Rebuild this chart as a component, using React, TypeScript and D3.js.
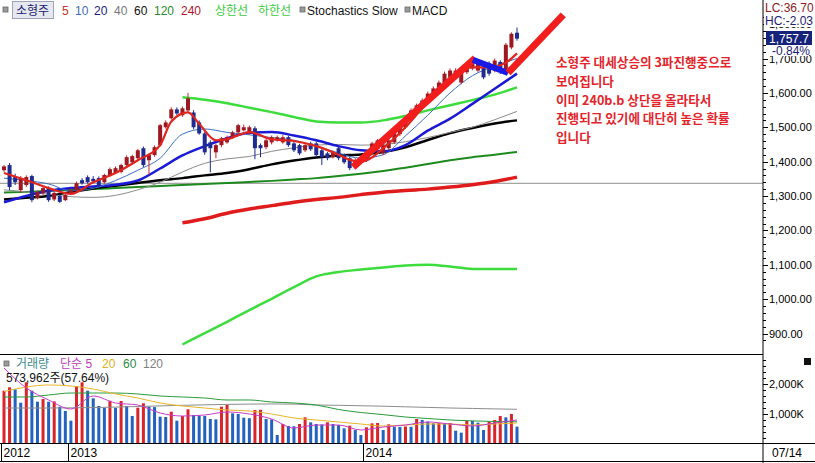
import React, { useEffect, useRef } from "react";
import * as d3 from "d3";

// 소형주 지수 주봉 (2012.10 ~ 2014.07)
const opens = [
  1375, 1390, 1358, 1317, 1332, 1358, 1294, 1308, 1323, 1290, 1300, 1288, 1308, 1317, 1346, 1355,
  1350, 1352, 1340, 1361, 1367, 1370, 1390, 1398, 1410, 1439, 1404, 1419, 1448, 1500, 1526, 1552,
  1535, 1549, 1543, 1514, 1482, 1456, 1427, 1448, 1456, 1471, 1485, 1491, 1483, 1497, 1448, 1442,
  1456, 1462, 1456, 1471, 1453, 1448, 1433, 1453, 1453, 1433, 1424, 1413, 1439, 1419, 1410, 1387,
  1399, 1427, 1427, 1436, 1424, 1439, 1456, 1480, 1500, 1529, 1543, 1564, 1578, 1593, 1613, 1630,
  1645, 1651, 1630, 1660, 1671, 1665, 1674, 1686, 1665, 1690, 1660, 1732, 1775,
];
const highs = [
  1390, 1396, 1365, 1358, 1360, 1362, 1316, 1328, 1328, 1313, 1305, 1307, 1322, 1342, 1352, 1360,
  1358, 1357, 1365, 1383, 1386, 1394, 1418, 1420, 1437, 1444, 1424, 1447, 1510, 1520, 1558, 1558,
  1560, 1600, 1550, 1520, 1488, 1462, 1452, 1472, 1476, 1490, 1510, 1508, 1505, 1503, 1453, 1466,
  1476, 1476, 1477, 1476, 1458, 1452, 1452, 1458, 1458, 1437, 1428, 1432, 1444, 1424, 1414, 1410,
  1418, 1432, 1458, 1466, 1453, 1468, 1487, 1506, 1531, 1555, 1569, 1584, 1604, 1619, 1636, 1662,
  1671, 1672, 1671, 1680, 1697, 1693, 1680, 1692, 1700, 1695, 1745, 1776, 1790,
];
const lows = [
  1370, 1317, 1332, 1309, 1326, 1282, 1290, 1303, 1283, 1285, 1280, 1285, 1305, 1314, 1333, 1336,
  1338, 1328, 1336, 1357, 1364, 1366, 1386, 1394, 1406, 1384, 1361, 1414, 1444, 1496, 1522, 1535,
  1530, 1545, 1494, 1478, 1420, 1369, 1410, 1442, 1452, 1466, 1480, 1488, 1478, 1407, 1413, 1436,
  1450, 1458, 1452, 1443, 1428, 1419, 1428, 1431, 1414, 1390, 1404, 1409, 1404, 1393, 1375, 1381,
  1393, 1399, 1422, 1430, 1419, 1433, 1451, 1474, 1495, 1525, 1538, 1559, 1574, 1588, 1609, 1626,
  1640, 1645, 1625, 1655, 1666, 1660, 1640, 1650, 1660, 1655, 1655, 1727, 1752,
];
const closes = [
  1386, 1326, 1340, 1352, 1355, 1288, 1311, 1323, 1288, 1309, 1283, 1303, 1317, 1337, 1337, 1340,
  1343, 1332, 1361, 1378, 1381, 1390, 1413, 1416, 1433, 1390, 1419, 1442, 1506, 1514, 1552, 1540,
  1555, 1584, 1500, 1482, 1427, 1439, 1448, 1468, 1471, 1485, 1506, 1500, 1500, 1439, 1439, 1462,
  1471, 1471, 1471, 1448, 1433, 1424, 1448, 1436, 1419, 1413, 1410, 1427, 1410, 1398, 1381, 1404,
  1413, 1404, 1453, 1462, 1448, 1462, 1482, 1500, 1526, 1549, 1564, 1578, 1598, 1613, 1630, 1656,
  1665, 1665, 1665, 1674, 1688, 1686, 1645, 1656, 1694, 1662, 1740, 1772, 1757.7,
];
// 거래량 (천주)
const volumes = [
  1777, 1890, 1823, 1377, 2057, 1777, 1410, 1500, 1410, 1420, 1243, 1100, 777, 1933, 2057, 1777,
  1523, 1267, 1210, 1443, 1210, 1433, 1267, 933, 1210, 1357, 1243, 1230, 910, 900, 1077, 777,
  933, 1157, 967, 943, 933, 833, 820, 1243, 1300, 1023, 1000, 877, 860, 1133, 1140, 833,
  820, 300, 667, 600, 590, 667, 889, 722, 667, 650, 722, 667, 633, 522, 611, 467,
  300, 556, 689, 700, 467, 656, 578, 570, 585, 575, 833, 800, 744, 690, 700, 690,
  700, 444, 378, 778, 770, 711, 467, 744, 800, 933, 889, 1000, 578,
];

// 이동평균 (4주 간격으로 읽은 값)
const maIdx = [0, 4, 8, 12, 16, 20, 24, 28, 32, 36, 40, 44, 48, 52, 56, 60, 64, 68, 72, 76, 80, 84, 88, 92];
const ma5Idx = [0, 4, 8, 12, 16, 20, 24, 28, 30, 33, 35, 38, 40, 44, 48, 52, 56, 60, 62, 64, 69, 72, 75, 78, 81, 84, 87, 90, 92];
const ma5 = [1367, 1346, 1323, 1306, 1340, 1367, 1404, 1448, 1517, 1543, 1510, 1462, 1465, 1486, 1465, 1460, 1445, 1420, 1405, 1400, 1453, 1500, 1555, 1607, 1656, 1674, 1674, 1688, 1715];
const ma10 = [1352, 1345, 1335, 1315, 1322, 1345, 1375, 1410, 1480, 1495, 1485, 1478, 1470, 1462, 1445, 1425, 1410, 1420, 1475, 1535, 1600, 1650, 1678, 1700];
const ma20 = [1282, 1300, 1315, 1323, 1328, 1333, 1345, 1380, 1418, 1445, 1468, 1484, 1486, 1476, 1462, 1445, 1433, 1430, 1448, 1490, 1525, 1568, 1612, 1656];
const ma40 = [1318, 1312, 1305, 1298, 1296, 1302, 1318, 1340, 1370, 1395, 1408, 1415, 1430, 1440, 1448, 1450, 1448, 1450, 1458, 1470, 1485, 1500, 1522, 1546];
const ma60 = [1290, 1295, 1300, 1312, 1322, 1330, 1338, 1346, 1352, 1360, 1367, 1378, 1392, 1403, 1412, 1418, 1421, 1428, 1442, 1463, 1483, 1498, 1511, 1520];
const ma120 = [1310, 1312, 1315, 1318, 1320, 1323, 1326, 1329, 1332, 1335, 1338, 1341, 1344, 1348, 1352, 1358, 1365, 1373, 1382, 1393, 1404, 1413, 1420, 1428];

// 240 이평 및 상한선/하한선
const bandIdx = [32, 36, 40, 44, 48, 52, 56, 60, 64, 68, 72, 76, 80, 84, 88, 92];
const ma240 = [1222, 1234, 1250, 1262, 1272, 1282, 1290, 1296, 1304, 1311, 1316, 1320, 1326, 1333, 1342, 1355];
const upperBand = [1587, 1580, 1570, 1557, 1544, 1530, 1517, 1514, 1514, 1520, 1533, 1549, 1564, 1579, 1595, 1616];
const lowerBand = [868, 901, 934, 968, 1001, 1035, 1066, 1079, 1086, 1092, 1098, 1100, 1095, 1088, 1088, 1088];

// 거래량 이동평균
const volMa5 = [2533, 1867, 1467, 1167, 1600, 1367, 1300, 1033, 933, 967, 1067, 1000, 833, 533, 633, 633, 467, 567, 633, 733, 667, 600, 700, 800];
const volMa20 = [1750, 1900, 1967, 1933, 1833, 1667, 1533, 1367, 1267, 1200, 1133, 1100, 1000, 867, 800, 733, 667, 600, 633, 667, 667, 633, 667, 700];
const volMa60 = [1567, 1567, 1633, 1700, 1700, 1700, 1667, 1600, 1567, 1533, 1467, 1467, 1400, 1367, 1300, 1150, 1050, 980, 900, 850, 800, 770, 750, 740];
const volMa120 = [1200, 1200, 1200, 1205, 1215, 1230, 1250, 1270, 1290, 1305, 1320, 1330, 1335, 1330, 1300, 1290, 1275, 1260, 1240, 1220, 1200, 1185, 1170, 1157];

// 추세선 (봉 위치, 가격)
const trendUp1: [number, number][] = [[62.6, 1384], [84.5, 1701]];
const trendDown: [number, number][] = [[84.1, 1696], [90.4, 1658]];
const trendUp2: [number, number][] = [[90.4, 1658], [100.3, 1827]];
const refPrice = 1337;

const priceTicks = [900, 1000, 1100, 1200, 1300, 1400, 1500, 1600, 1700, 1800];
const volTicks = [1000, 2000];
const yearLabels = ["2012", "2013", "2014"];
const yearIdx = [-0.6, 11.5, 64.4];
const lastDate = "07/14";

const noteLines = [
  "소형주 대세상승의 3파진행중으로",
  "보여집니다",
  "이미 240b.b 상단을 올라타서",
  "진행되고 있기에 대단히 높은 확률",
  "입니다",
];

const legendItems: [string, string, number][] = [
  ["5", "#c4302a", 62],
  ["10", "#3b6cbc", 75],
  ["20", "#1c1c86", 94],
  ["40", "#777777", 114],
  ["60", "#111111", 134],
  ["120", "#2a8a2a", 154],
  ["240", "#b3122a", 181],
  ["상한선", "#3ccc3c", 215],
  ["하한선", "#3ccc3c", 258],
];

const App: React.FC = () => {
  const svgRef = useRef<SVGSVGElement | null>(null);

  useEffect(() => {
    const svg = d3.select(svgRef.current);
    svg.selectAll("*").remove();

    const font = "'Liberation Sans', 'Noto Sans CJK KR', sans-serif";
    const axisX = 763;

    const x = d3.scaleLinear().domain([0, closes.length - 1]).range([4, 517]);
    const y = d3.scaleLinear().domain([900, 1700]).range([333.5, 58.5]);
    const yv = d3.scaleLinear().domain([0, 2000]).range([444, 384]);

    svg.append("rect").attr("width", 815).attr("height", 463).attr("fill", "#fff");

    const defs = svg.append("defs");
    defs.append("clipPath").attr("id", "clipMain")
      .append("rect").attr("x", 0).attr("y", 0).attr("width", axisX).attr("height", 353);
    defs.append("clipPath").attr("id", "clipVol")
      .append("rect").attr("x", 0).attr("y", 355).attr("width", axisX).attr("height", 88);

    const main = svg.append("g").attr("clip-path", "url(#clipMain)");

    // 기준선
    main.append("line")
      .attr("x1", 0).attr("x2", axisX)
      .attr("y1", y(refPrice)).attr("y2", y(refPrice))
      .attr("stroke", "#8c8c8c").attr("stroke-width", 1);

    const drawLine = (g: any, idx: number[], vals: number[], scale: any, color: string, w: number) => {
      const line = d3.line<number>()
        .x((_, i) => x(idx[i]))
        .y((d) => scale(d))
        .curve(d3.curveMonotoneX);
      g.append("path")
        .attr("d", line(vals))
        .attr("fill", "none")
        .attr("stroke", color)
        .attr("stroke-width", w)
        .attr("stroke-linejoin", "round");
    };

    drawLine(main, bandIdx, ma240, y, "#e01b1b", 3.5);
    drawLine(main, bandIdx, lowerBand, y, "#3ddc3d", 2.5);
    drawLine(main, bandIdx, upperBand, y, "#3ddc3d", 2.5);
    drawLine(main, maIdx, ma120, y, "#1d8a1d", 2);
    drawLine(main, maIdx, ma60, y, "#000000", 2.5);
    drawLine(main, maIdx, ma40, y, "#8a8a8a", 1);
    drawLine(main, maIdx, ma20, y, "#1a1ad6", 2.5);
    drawLine(main, maIdx, ma10, y, "#3a6ec4", 1);

    // 캔들
    const candles = main.append("g");
    closes.forEach((c, i) => {
      const o = opens[i];
      const up = c >= o;
      candles.append("line")
        .attr("x1", x(i)).attr("x2", x(i))
        .attr("y1", y(highs[i])).attr("y2", y(lows[i]))
        .attr("stroke", up ? "#c8262e" : "#1f2b90").attr("stroke-width", 1);
      const top = y(Math.max(o, c));
      const h = Math.max(1, Math.abs(y(o) - y(c)));
      candles.append("rect")
        .attr("x", x(i) - 2).attr("y", top)
        .attr("width", 4).attr("height", h)
        .attr("fill", up ? "#9e1822" : "#1f2b90");
    });

    drawLine(main, ma5Idx, ma5, y, "#e0251f", 2.2);

    // 추세선
    const seg = (pts: [number, number][], color: string, w: number) => {
      main.append("line")
        .attr("x1", x(pts[0][0])).attr("y1", y(pts[0][1]))
        .attr("x2", x(pts[1][0])).attr("y2", y(pts[1][1]))
        .attr("stroke", color).attr("stroke-width", w);
    };
    seg(trendUp1, "#f21d1d", 7);
    seg(trendDown, "#1b1be8", 6);
    seg(trendUp2, "#f21d1d", 7);

    // 메모
    const note = svg.append("text")
      .attr("font-family", "'Noto Sans CJK KR', sans-serif")
      .attr("font-size", 12.6)
      .attr("font-weight", 600)
      .attr("fill", "#e3242b");
    noteLines.forEach((t, i) => {
      note.append("tspan").attr("x", 556).attr("y", 67 + i * 18.8).text(t);
    });

    // 가격축
    const axisG = svg.append("g").attr("font-family", font).attr("font-size", 11);
    axisG.append("line").attr("x1", axisX).attr("x2", axisX).attr("y1", 0).attr("y2", 463).attr("stroke", "#000");
    d3.range(880, 1821, 20).forEach((v) => {
      const yy = Math.round(y(v)) + 0.5;
      if (yy < 0 || yy > 353) return;
      axisG.append("line").attr("x1", axisX).attr("x2", axisX + (v % 100 === 0 ? 5 : 3))
        .attr("y1", yy).attr("y2", yy).attr("stroke", "#000");
    });
    priceTicks.forEach((v) => {
      axisG.append("text").attr("x", axisX + 6).attr("y", y(v) + 4).attr("fill", "#000")
        .text(d3.format(",.2f")(v));
    });

    // 현재가 정보
    const info = svg.append("g").attr("font-family", font).attr("font-size", 12);
    info.append("rect").attr("x", axisX + 1).attr("y", 0).attr("width", 51).attr("height", 27).attr("fill", "#fff");
    info.append("text").attr("x", axisX + 2).attr("y", 12).attr("fill", "#8a1c1c").text("LC:36.70");
    info.append("text").attr("x", axisX + 2).attr("y", 25).attr("fill", "#1c1c70").text("HC:-2.03");
    info.append("rect").attr("x", axisX + 3).attr("y", 31).attr("width", 46).attr("height", 14).attr("fill", "#16237a");
    info.append("text").attr("x", axisX + 6).attr("y", 43).attr("fill", "#fff").text(d3.format(",.1f")(closes[closes.length - 1]));
    info.append("rect").attr("x", axisX + 6).attr("y", 46).attr("width", 40).attr("height", 10).attr("fill", "#fff");
    info.append("text").attr("x", axisX + 9).attr("y", 55).attr("fill", "#1c1c70").text("-0.84%");

    // 범례
    const leg = svg.append("g").attr("font-family", font).attr("font-size", 12);
    const sq = (g: any, sx: number, sy: number) => {
      g.append("rect").attr("x", sx).attr("y", sy).attr("width", 5).attr("height", 5)
        .attr("fill", "#9a9a9a").attr("stroke", "#6a6a6a").attr("stroke-width", 0.8);
    };
    sq(leg, 3, 7);
    leg.append("rect").attr("x", 12.5).attr("y", 1.5).attr("width", 41).attr("height", 17)
      .attr("fill", "#e6e8f0").attr("stroke", "#a0a4b8");
    leg.append("text").attr("x", 16).attr("y", 15).attr("fill", "#1a1a70").text("소형주");
    legendItems.forEach(([t, c, lx]) => {
      leg.append("text").attr("x", lx).attr("y", 15).attr("fill", c).text(t);
    });
    sq(leg, 300, 7);
    leg.append("text").attr("x", 307).attr("y", 15).attr("fill", "#111").text("Stochastics Slow");
    sq(leg, 405, 7);
    leg.append("text").attr("x", 412).attr("y", 15).attr("fill", "#111").text("MACD");

    // 거래량 패널
    svg.append("line").attr("x1", 0).attr("x2", axisX).attr("y1", 354.5).attr("y2", 354.5).attr("stroke", "#000");
    const vol = svg.append("g").attr("clip-path", "url(#clipVol)");
    volumes.forEach((v, i) => {
      const up = i === 0 || v >= volumes[i - 1];
      vol.append("rect")
        .attr("x", x(i) - 1.5).attr("y", yv(v))
        .attr("width", 3).attr("height", yv(0) - yv(v))
        .attr("fill", up ? "#d8242a" : "#2462c0");
    });
    drawLine(vol, maIdx, volMa120, yv, "#8c8c8c", 1);
    drawLine(vol, maIdx, volMa60, yv, "#2a9a3a", 1);
    drawLine(vol, maIdx, volMa20, yv, "#e8b42a", 1);
    drawLine(vol, maIdx, volMa5, yv, "#c83cc8", 1);

    const vleg = svg.append("g").attr("font-family", font).attr("font-size", 12);
    sq(vleg, 4, 361);
    vleg.append("text").attr("x", 16).attr("y", 368).attr("fill", "#3d8c8c").text("거래량");
    vleg.append("text").attr("x", 60).attr("y", 368).attr("fill", "#c23cc2").text("단순 5");
    vleg.append("text").attr("x", 102).attr("y", 368).attr("fill", "#e0b020").text("20");
    vleg.append("text").attr("x", 123).attr("y", 368).attr("fill", "#2a8a3a").text("60");
    vleg.append("text").attr("x", 143).attr("y", 368).attr("fill", "#808080").text("120");
    vleg.append("text").attr("x", 6).attr("y", 382).attr("fill", "#111").text("573,962주(57.64%)");

    // 거래량 축
    d3.range(0, 3001, 200).forEach((v) => {
      const yy = Math.round(yv(v)) + 0.5;
      if (yy < 356 || yy > 444) return;
      axisG.append("line").attr("x1", axisX).attr("x2", axisX + (v % 1000 === 0 ? 5 : 3))
        .attr("y1", yy).attr("y2", yy).attr("stroke", "#000");
    });
    volTicks.forEach((v) => {
      axisG.append("text").attr("x", axisX + 6).attr("y", yv(v) + 4).attr("fill", "#000")
        .text(d3.format(",")(v) + "K");
    });
    svg.append("rect").attr("x", 804).attr("y", 358).attr("width", 7).attr("height", 7).attr("fill", "#111");

    // 날짜축
    const dateG = svg.append("g").attr("font-family", font).attr("font-size", 12);
    dateG.append("line").attr("x1", 0).attr("x2", 815).attr("y1", 443.5).attr("y2", 443.5).attr("stroke", "#000");
    dateG.append("line").attr("x1", 0).attr("x2", 815).attr("y1", 461.5).attr("y2", 461.5).attr("stroke", "#000");
    dateG.append("line").attr("x1", 1.5).attr("x2", 1.5).attr("y1", 443).attr("y2", 462).attr("stroke", "#000");
    yearLabels.forEach((t, i) => {
      const xx = Math.max(1.5, Math.round(x(yearIdx[i])) + 0.5);
      if (i > 0) {
        dateG.append("line").attr("x1", xx).attr("x2", xx).attr("y1", 443).attr("y2", 462).attr("stroke", "#000");
      }
      dateG.append("text").attr("x", xx + 2).attr("y", 457).attr("fill", "#000").text(t);
    });
    dateG.append("text").attr("x", axisX + 9).attr("y", 457).attr("fill", "#000").text(lastDate);
  }, []);

  return (
    <>
      <style>{"body{margin:0}"}</style>
      <svg ref={svgRef} width={815} height={463} style={{ display: "block" }} />
    </>
  );
};

export default App;
